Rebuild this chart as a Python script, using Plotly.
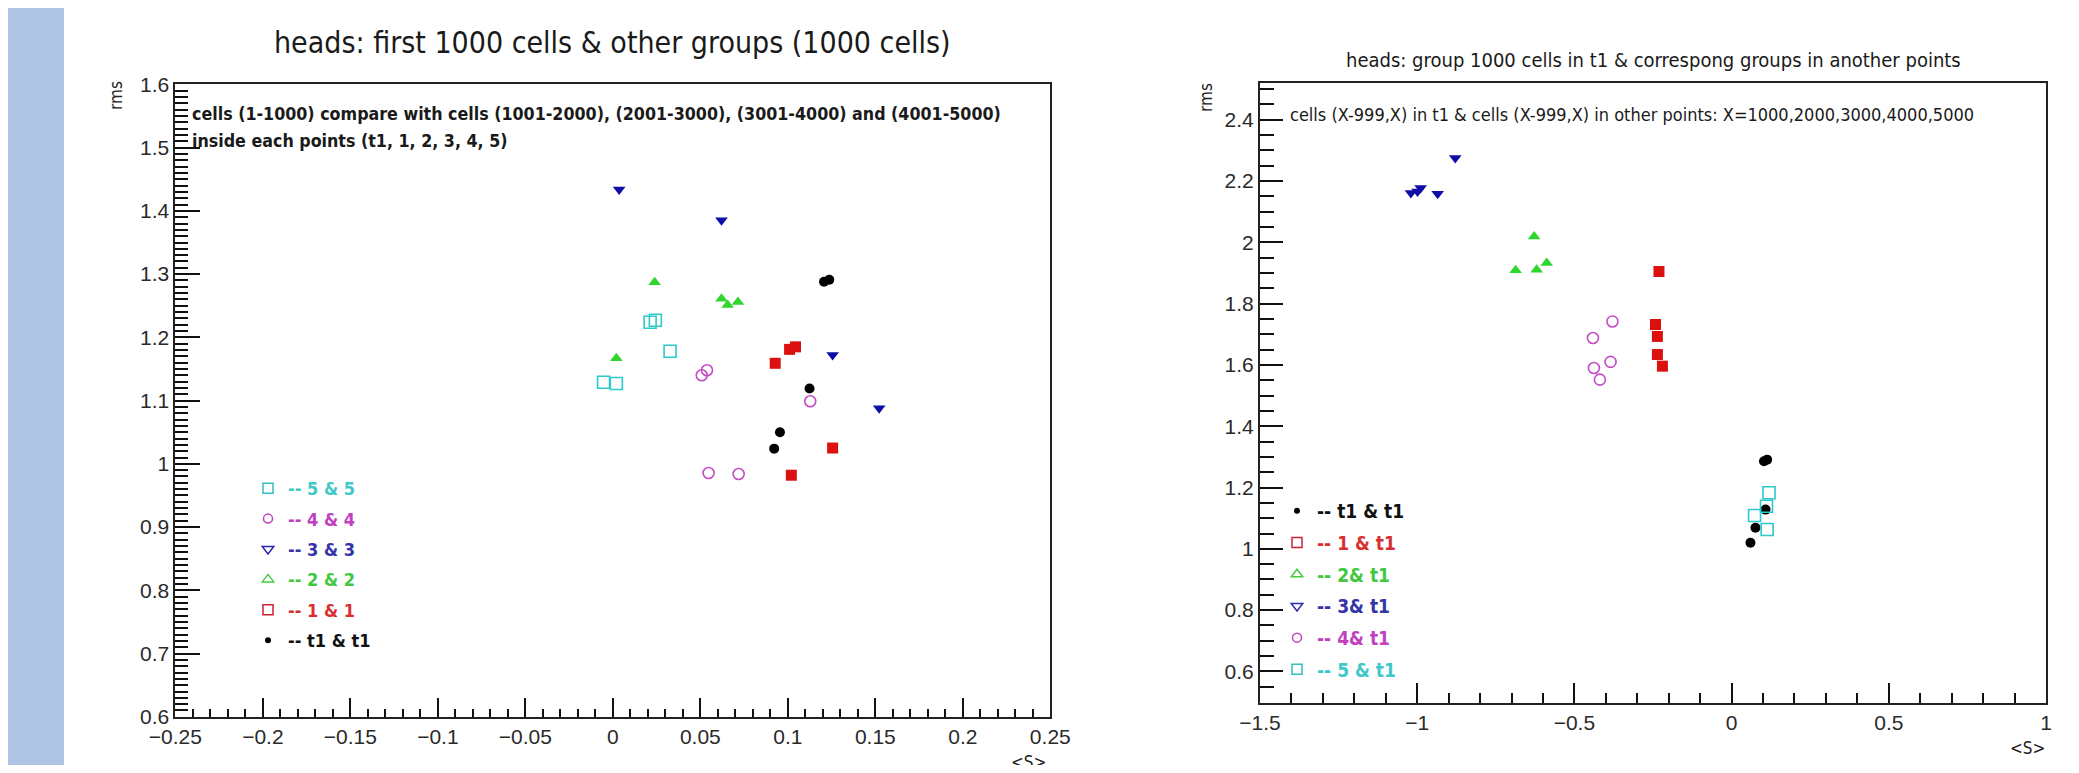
import plotly.graph_objects as go

# The page body has an 8px margin, so the figure is sized to fill the
# 2079x773 window exactly (8 + 2063 + 8, 8 + 757 + 8).
OFF = 8
W, H = 2079 - 2 * OFF, 773 - 2 * OFF

# ---------------- Left panel data: first 1000 cells vs other groups ----------------
left_t1_x = [0.1207, 0.1237, 0.1124, 0.0955, 0.0922]
left_t1_y = [1.288, 1.291, 1.119, 1.050, 1.024]
left_p1_x = [0.0928, 0.1010, 0.1044, 0.1256, 0.1020]
left_p1_y = [1.159, 1.181, 1.185, 1.025, 0.982]
left_p2_x = [0.0239, 0.0621, 0.0656, 0.0715, 0.0020]
left_p2_y = [1.287, 1.261, 1.251, 1.256, 1.167]
left_p3_x = [0.0036, 0.0621, 0.1256, 0.1522]
left_p3_y = [1.434, 1.385, 1.172, 1.088]
left_p4_x = [0.0508, 0.0538, 0.1128, 0.0547, 0.0719]
left_p4_y = [1.140, 1.148, 1.099, 0.9855, 0.984]
left_p5_x = [0.0213, 0.0243, 0.0327, -0.0053, 0.0020]
left_p5_y = [1.224, 1.227, 1.178, 1.129, 1.127]

# ---------------- Right panel data: group in t1 vs corresponding groups ----------------
right_t1_x = [0.113, 0.103, 0.108, 0.076, 0.060]
right_t1_y = [1.291, 1.286, 1.128, 1.069, 1.020]
right_p1_x = [-0.231, -0.242, -0.236, -0.236, -0.220]
right_p1_y = [1.905, 1.732, 1.693, 1.634, 1.596]
right_p2_x = [-0.628, -0.687, -0.620, -0.588]
right_p2_y = [2.019, 1.909, 1.911, 1.933]
right_p3_x = [-1.020, -0.999, -0.989, -0.935, -0.879]
right_p3_y = [2.161, 2.166, 2.177, 2.159, 2.275]
right_p4_x = [-0.379, -0.441, -0.385, -0.438, -0.419]
right_p4_y = [1.742, 1.688, 1.610, 1.590, 1.552]
right_p5_x = [0.119, 0.111, 0.073, 0.113]
right_p5_y = [1.183, 1.139, 1.109, 1.063]

left_labels = {"t1": "-- t1 & t1", "p1": "-- 1 & 1", "p2": "-- 2 & 2",
               "p3": "-- 3 & 3", "p4": "-- 4 & 4", "p5": "-- 5 & 5"}
right_labels = {"t1": "-- t1 & t1", "p1": "-- 1 & t1", "p2": "-- 2& t1",
                "p3": "-- 3& t1", "p4": "-- 4& t1", "p5": "-- 5 & t1"}

left_title = "heads: first 1000 cells & other groups (1000 cells)"
right_title = "heads: group 1000 cells in t1 & correspong groups in another points"
left_note1 = "cells (1-1000) compare with cells (1001-2000), (2001-3000), (3001-4000) and (4001-5000)"
left_note2 = "inside each points (t1, 1, 2, 3, 4, 5)"
right_note = "cells (X-999,X) in t1 & cells (X-999,X) in other points: X=1000,2000,3000,4000,5000"

# ---------------- styles ----------------
NARROW = "Liberation Sans Narrow, Arial Narrow, DejaVu Sans Condensed, Liberation Sans, Arial, sans-serif"
TICKF = "Liberation Sans, Arial, sans-serif"

mk = {
    "t1": dict(symbol="circle", color="#000000", size=10, line=dict(width=0)),
    "p1": dict(symbol="square", color="#dd1010", size=11, line=dict(width=0)),
    "p2": dict(symbol="triangle-up", color="#2ed62e", size=11, line=dict(width=0)),
    "p3": dict(symbol="triangle-down", color="#0e0ea6", size=11, line=dict(width=0)),
    "p4": dict(symbol="circle-open", color="#c44cc4", size=11, line=dict(width=1.6)),
    "p5": dict(symbol="square-open", color="#2ccaca", size=12, line=dict(width=1.6)),
}
legmk = {
    "t1": dict(symbol="circle", color="#000000", size=6),
    "p1": dict(symbol="square-open", color="#cc2233", size=10, line=dict(width=1.5)),
    "p2": dict(symbol="triangle-up-open", color="#44cc44", size=10, line=dict(width=1.5)),
    "p3": dict(symbol="triangle-down-open", color="#2a2ab0", size=10, line=dict(width=1.5)),
    "p4": dict(symbol="circle-open", color="#bb44bb", size=9, line=dict(width=1.5)),
    "p5": dict(symbol="square-open", color="#33c0c0", size=10, line=dict(width=1.5)),
}
txtcol = {"t1": "#111111", "p1": "#d83030", "p2": "#40c840", "p3": "#3434a8",
          "p4": "#c040c0", "p5": "#40c8c8"}


def px(x):
    """window x pixel -> paper fraction"""
    return (x - OFF) / W


def py(y):
    """window y pixel (from top) -> paper fraction"""
    return 1 - (y - OFF) / H


fig = go.Figure()

left_data = {"t1": (left_t1_x, left_t1_y), "p1": (left_p1_x, left_p1_y),
             "p2": (left_p2_x, left_p2_y), "p3": (left_p3_x, left_p3_y),
             "p4": (left_p4_x, left_p4_y), "p5": (left_p5_x, left_p5_y)}
right_data = {"t1": (right_t1_x, right_t1_y), "p1": (right_p1_x, right_p1_y),
              "p2": (right_p2_x, right_p2_y), "p3": (right_p3_x, right_p3_y),
              "p4": (right_p4_x, right_p4_y), "p5": (right_p5_x, right_p5_y)}

for k, (xs, ys) in left_data.items():
    fig.add_trace(go.Scatter(x=xs, y=ys, mode="markers", marker=mk[k],
                             xaxis="x", yaxis="y", showlegend=False))
for k, (xs, ys) in right_data.items():
    fig.add_trace(go.Scatter(x=xs, y=ys, mode="markers", marker=mk[k],
                             xaxis="x2", yaxis="y2", showlegend=False))

# legend entries (no data)
for k in ["p5", "p4", "p3", "p2", "p1", "t1"]:
    fig.add_trace(go.Scatter(x=[None], y=[None], mode="markers", marker=legmk[k],
                             xaxis="x", yaxis="y", legend="legend", legendgroup="L" + k,
                             name="<b><span style='color:%s'>%s</span></b>" % (txtcol[k], left_labels[k])))
for k in ["t1", "p1", "p2", "p3", "p4", "p5"]:
    fig.add_trace(go.Scatter(x=[None], y=[None], mode="markers", marker=legmk[k],
                             xaxis="x2", yaxis="y2", legend="legend2", legendgroup="R" + k,
                             name="<b><span style='color:%s'>%s</span></b>" % (txtcol[k], right_labels[k])))


def axis(domain, rng, dtick, mdtick, ln, mln, anchor):
    return dict(domain=domain, range=rng, dtick=dtick, tick0=0, anchor=anchor,
                automargin=False,
                ticks="inside", ticklen=ln, tickwidth=2, tickcolor="#111",
                minor=dict(dtick=mdtick, ticks="inside", ticklen=mln, tickwidth=1.5, tickcolor="#111"),
                showline=True, linecolor="#222", linewidth=2, mirror=True,
                showgrid=False, zeroline=False,
                tickfont=dict(size=21, family=TICKF, color="#2a2a2a"))


ax_l = [px(175.4), px(1050.3)]
ay_l = [py(716.8), py(84.4)]
ax_r = [px(1260), px(2046)]
ay_r = [py(703), py(83)]


def note(text, x, y, size, xanchor="center", angle=0, color="#1a1a1a"):
    return dict(text=text, xref="paper", yref="paper", x=px(x), y=py(y),
                xanchor=xanchor, yanchor="middle", textangle=angle, showarrow=False,
                font=dict(size=size, family=NARROW, color=color))


fig.update_layout(
    width=W, height=H, autosize=False,
    margin=dict(l=0, r=0, t=0, b=0, pad=0, autoexpand=False),
    paper_bgcolor="white", plot_bgcolor="white",
    xaxis=axis(ax_l, [-0.25, 0.25], 0.05, 0.01, 19, 8, "y"),
    yaxis=axis(ay_l, [0.6, 1.6], 0.1, 0.01, 25, 13, "x"),
    xaxis2=axis(ax_r, [-1.5, 1.0], 0.5, 0.1, 20, 10, "y2"),
    yaxis2=axis(ay_r, [0.497, 2.52], 0.2, 0.05, 23, 14, "x2"),
    legend=dict(x=px(248), y=py(470), xanchor="left", yanchor="top",
                bgcolor="rgba(0,0,0,0)", font=dict(size=18, family=NARROW),
                tracegroupgap=4, itemwidth=30, traceorder="grouped"),
    legend2=dict(x=px(1277), y=py(492), xanchor="left", yanchor="top",
                 bgcolor="rgba(0,0,0,0)", font=dict(size=19, family=NARROW),
                 tracegroupgap=4, itemwidth=30, traceorder="grouped"),
    shapes=[dict(type="rect", xref="paper", yref="paper", x0=0, x1=px(64), y0=0, y1=1,
                 fillcolor="#aec4e2", line=dict(width=0), layer="below")],
    annotations=[
        note(left_title, 612, 42, 30),
        note(right_title, 1653, 60, 20),
        note("<b>" + left_note1 + "</b>", 190, 113.7, 17.7, "left"),
        note("<b>" + left_note2 + "</b>", 190, 141, 17.7, "left"),
        note(right_note, 1288, 115, 18, "left"),
        note("rms", 116, 96, 17, angle=-90, color="#222"),
        note("rms", 1206, 98, 17, angle=-90, color="#222"),
        note("&lt;S&gt;", 1028, 762, 17, color="#222"),
        note("&lt;S&gt;", 2027, 748, 17, color="#222"),
    ],
)

fig.write_html("out.html", config={"displayModeBar": False})
